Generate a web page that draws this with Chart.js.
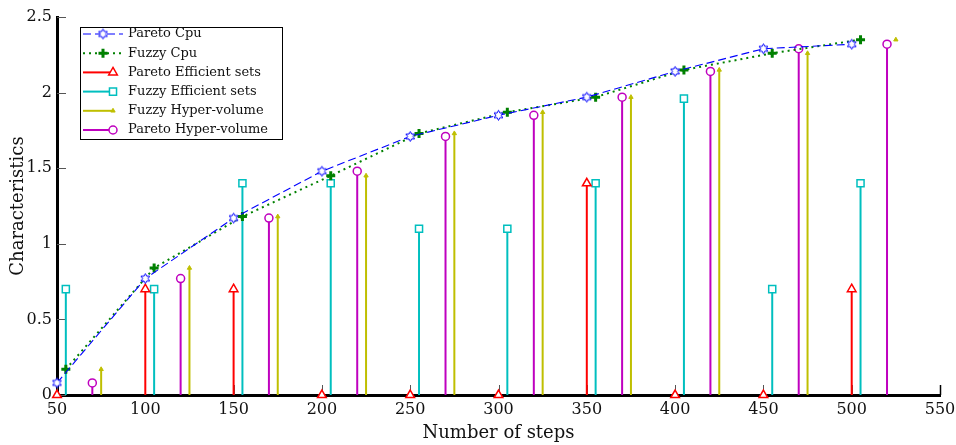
<!DOCTYPE html>
<html>
<head>
<meta charset="utf-8">
<script src="https://cdn.jsdelivr.net/npm/chart.js@4.4.1/dist/chart.umd.min.js"></script>
<style>
  html, body { margin: 0; padding: 0; background: #fff; }
  #wrap { width: 956px; height: 445px; }
</style>
</head>
<body>
<div id="wrap"><canvas id="chart"></canvas></div>
<script>
// step positions for each series (stems are offset so they don't overlap)
const paretoSteps = [50, 100, 150, 200, 250, 300, 350, 400, 450, 500];
const fuzzySteps = [55, 105, 155, 205, 255, 305, 355, 405, 455, 505];
const paretoHvSteps = [70, 120, 170, 220, 270, 320, 370, 420, 470, 520];
const fuzzyHvSteps = [75, 125, 175, 225, 275, 325, 375, 425, 475, 525];

const paretoCpu = [0.08, 0.77, 1.17, 1.48, 1.71, 1.85, 1.97, 2.14, 2.29, 2.32];
const fuzzyCpu = [0.17, 0.84, 1.18, 1.45, 1.73, 1.87, 1.97, 2.15, 2.26, 2.35];
const paretoEfficient = [0, 0.7, 0.7, 0, 0, 0, 1.4, 0, 0, 0.7];
const fuzzyEfficient = [0.7, 0.7, 1.4, 1.4, 1.1, 1.1, 1.4, 1.96, 0.7, 1.4];
const fuzzyHyperVolume = [0.17, 0.84, 1.18, 1.45, 1.73, 1.87, 1.97, 2.15, 2.26, 2.35];
const paretoHyperVolume = [0.08, 0.77, 1.17, 1.48, 1.71, 1.85, 1.97, 2.14, 2.29, 2.32];

const xTickLabels = ['50', '100', '150', '200', '250', '300', '350', '400', '450', '500', '550'];
const yTickLabels = ['0', '0.5', '1', '1.5', '2', '2.5'];

const FONT = 'DejaVu Serif';

const toPoints = (xs, ys) => xs.map((x, i) => ({ x, y: ys[i] }));

// open six-pointed star used as the Pareto Cpu marker
function makeHexagram(color, r) {
    const c = document.createElement('canvas');
    const size = r * 2 + 3;
    c.width = size;
    c.height = size;
    const g = c.getContext('2d');
    const cx = size / 2;
    const cy = size / 2;
    g.strokeStyle = color;
    g.lineWidth = 1;
    g.beginPath();
    for (let k = 0; k < 12; k++) {
        const a = -Math.PI / 2 + k * Math.PI / 6;
        const rr = k % 2 === 0 ? r : r * 0.55;
        const px = cx + rr * Math.cos(a);
        const py = cy + rr * Math.sin(a);
        if (k === 0) g.moveTo(px, py); else g.lineTo(px, py);
    }
    g.closePath();
    g.fillStyle = '#fff';
    g.fill();
    g.stroke();
    return c;
}
const hexagram = makeHexagram('#0000ff', 5);

// vertical lines from each point down to zero
const stemPlugin = {
    id: 'stems',
    beforeDatasetsDraw(chart) {
        const { ctx, scales } = chart;
        const y0 = scales.y.getPixelForValue(0);
        chart.data.datasets.forEach((ds, i) => {
            if (!ds.stem) return;
            const meta = chart.getDatasetMeta(i);
            ctx.save();
            ctx.strokeStyle = ds.borderColor;
            ctx.lineWidth = 2;
            meta.data.forEach((pt, j) => {
                if (ds.stemSkip && ds.stemSkip.includes(j)) return;
                ctx.beginPath();
                ctx.moveTo(pt.x, pt.y);
                ctx.lineTo(pt.x, y0);
                ctx.stroke();
            });
            ctx.restore();
        });
    },
};

// small tick marks pointing into the plot
const innerTicks = {
    id: 'innerTicks',
    beforeDatasetsDraw(chart) {
        const { ctx, chartArea, scales } = chart;
        ctx.save();
        scales.x.ticks.forEach((t, i) => {
            const px = Math.round(scales.x.getPixelForValue(t.value)) + 0.5;
            const last = i === scales.x.ticks.length - 1;
            ctx.strokeStyle = last ? '#000' : '#555';
            ctx.lineWidth = last ? 1.5 : 1;
            ctx.beginPath();
            ctx.moveTo(px, chartArea.bottom);
            ctx.lineTo(px, chartArea.bottom - 10);
            ctx.stroke();
        });
        ctx.strokeStyle = '#555';
        ctx.lineWidth = 1;
        scales.y.ticks.forEach((t) => {
            const py = Math.round(scales.y.getPixelForValue(t.value)) + 0.5;
            ctx.beginPath();
            ctx.moveTo(chartArea.left, py);
            ctx.lineTo(chartArea.left + 9, py);
            ctx.stroke();
        });
        ctx.restore();
    },
};

// boxed legend in the upper-left corner of the plot
const boxLegend = {
    id: 'boxLegend',
    afterDraw(chart) {
        const { ctx, chartArea } = chart;
        const bx = chartArea.left + 23;
        const by = chartArea.top + 10;
        const bw = 202;
        const bh = 112;
        ctx.save();
        ctx.fillStyle = '#fff';
        ctx.fillRect(bx, by, bw, bh);
        ctx.strokeStyle = '#000';
        ctx.lineWidth = 1;
        ctx.strokeRect(bx + 0.5, by + 0.5, bw, bh);

        chart.data.datasets.forEach((ds, i) => {
            const cy = by + 7 + i * 19.2;
            const x1 = bx + 3;
            const x2 = ds.stem ? bx + 33 : bx + 43;
            const mx = ds.stem ? bx + 33 : bx + 23;
            ctx.strokeStyle = ds.borderColor;
            ctx.lineWidth = ds.stem ? 2 : ds.borderWidth;
            ctx.setLineDash(ds.borderDash || []);
            ctx.beginPath();
            ctx.moveTo(x1, cy);
            ctx.lineTo(x2, cy);
            ctx.stroke();
            ctx.setLineDash([]);
            ctx.fillStyle = ds.pointBackgroundColor;
            ctx.strokeStyle = ds.pointBorderColor;
            ctx.lineWidth = ds.pointBorderWidth;
            Chart.helpers.drawPoint(ctx, {
                pointStyle: ds.pointStyle,
                radius: ds.pointRadius,
                rotation: 0,
                borderWidth: ds.pointBorderWidth,
            }, mx, cy);
            ctx.fillStyle = '#111';
            ctx.font = '13px "' + FONT + '"';
            ctx.textBaseline = 'middle';
            ctx.fillText(ds.label, bx + 48, cy);
        });
        ctx.restore();
    },
};

new Chart(document.getElementById('chart').getContext('2d'), {
    type: 'line',
    data: {
        datasets: [
            {
                label: 'Pareto Cpu',
                data: toPoints(paretoSteps, paretoCpu),
                borderColor: '#0000ff',
                borderWidth: 1.1,
                borderDash: [8, 4],
                pointStyle: hexagram,
                pointRadius: 5,
                pointBorderWidth: 1,
                pointBackgroundColor: '#fff',
                pointBorderColor: '#0000ff',
            },
            {
                label: 'Fuzzy Cpu',
                data: toPoints(fuzzySteps, fuzzyCpu),
                borderColor: '#008000',
                borderWidth: 2,
                borderDash: [2, 4],
                pointStyle: 'cross',
                pointRadius: 4.5,
                pointBorderWidth: 3,
                pointBackgroundColor: '#008000',
                pointBorderColor: '#008000',
            },
            {
                label: 'Pareto Efficient sets',
                data: toPoints(paretoSteps, paretoEfficient),
                stem: true,
                showLine: false,
                borderColor: '#ff0000',
                borderWidth: 2,
                pointStyle: 'triangle',
                pointRadius: 5,
                pointBorderWidth: 1.5,
                pointBackgroundColor: '#fff',
                pointBorderColor: '#ff0000',
            },
            {
                label: 'Fuzzy Efficient sets',
                data: toPoints(fuzzySteps, fuzzyEfficient),
                stem: true,
                showLine: false,
                borderColor: '#00bfbf',
                borderWidth: 2,
                pointStyle: 'rect',
                pointRadius: 5,
                pointBorderWidth: 1.5,
                pointBackgroundColor: '#fff',
                pointBorderColor: '#00bfbf',
            },
            {
                label: 'Fuzzy Hyper-volume',
                data: toPoints(fuzzyHvSteps, fuzzyHyperVolume),
                stem: true,
                stemSkip: [9],
                showLine: false,
                borderColor: '#bfbf00',
                borderWidth: 2,
                pointStyle: 'triangle',
                pointRadius: 2.5,
                pointBorderWidth: 1,
                pointBackgroundColor: '#bfbf00',
                pointBorderColor: '#bfbf00',
            },
            {
                label: 'Pareto Hyper-volume',
                data: toPoints(paretoHvSteps, paretoHyperVolume),
                stem: true,
                showLine: false,
                borderColor: '#bf00bf',
                borderWidth: 2,
                pointStyle: 'circle',
                pointRadius: 4,
                pointBorderWidth: 1.5,
                pointBackgroundColor: '#fff',
                pointBorderColor: '#bf00bf',
            },
        ],
    },
    options: {
        responsive: true,
        maintainAspectRatio: false,
        animation: false,
        clip: false,
        layout: { padding: { top: 17, right: 16, left: 0, bottom: 0 } },
        plugins: {
            legend: { display: false },
            tooltip: { enabled: false },
        },
        scales: {
            x: {
                type: 'linear',
                min: 50,
                max: 550,
                afterFit: (scale) => {
                    scale.height = 50;
                    scale.paddingLeft = 0;
                    scale.paddingRight = 0;
                },
                grid: { display: false, drawTicks: false },
                border: { display: true, color: '#000', width: 3 },
                ticks: {
                    stepSize: 50,
                    autoSkip: false,
                    maxRotation: 0,
                    padding: 5,
                    color: '#111',
                    font: { family: FONT, size: 16 },
                    callback: (value, index) => xTickLabels[index],
                },
                title: {
                    display: true,
                    text: 'Number of steps',
                    color: '#111',
                    font: { family: FONT, size: 18 },
                    padding: { top: 0, bottom: 1 },
                },
            },
            y: {
                min: 0,
                max: 2.5,
                afterFit: (scale) => {
                    scale.width = 57;
                    scale.paddingTop = 0;
                    scale.paddingBottom = 0;
                },
                grid: { display: false, drawTicks: false },
                border: { display: true, color: '#000', width: 3 },
                ticks: {
                    stepSize: 0.5,
                    padding: 5,
                    color: '#111',
                    font: { family: FONT, size: 16 },
                    callback: (value, index) => yTickLabels[index],
                },
                title: {
                    display: true,
                    text: 'Characteristics',
                    color: '#111',
                    font: { family: FONT, size: 18 },
                    padding: { top: 8, bottom: 0 },
                },
            },
        },
    },
    plugins: [innerTicks, stemPlugin, boxLegend],
});
</script>
</body>
</html>
